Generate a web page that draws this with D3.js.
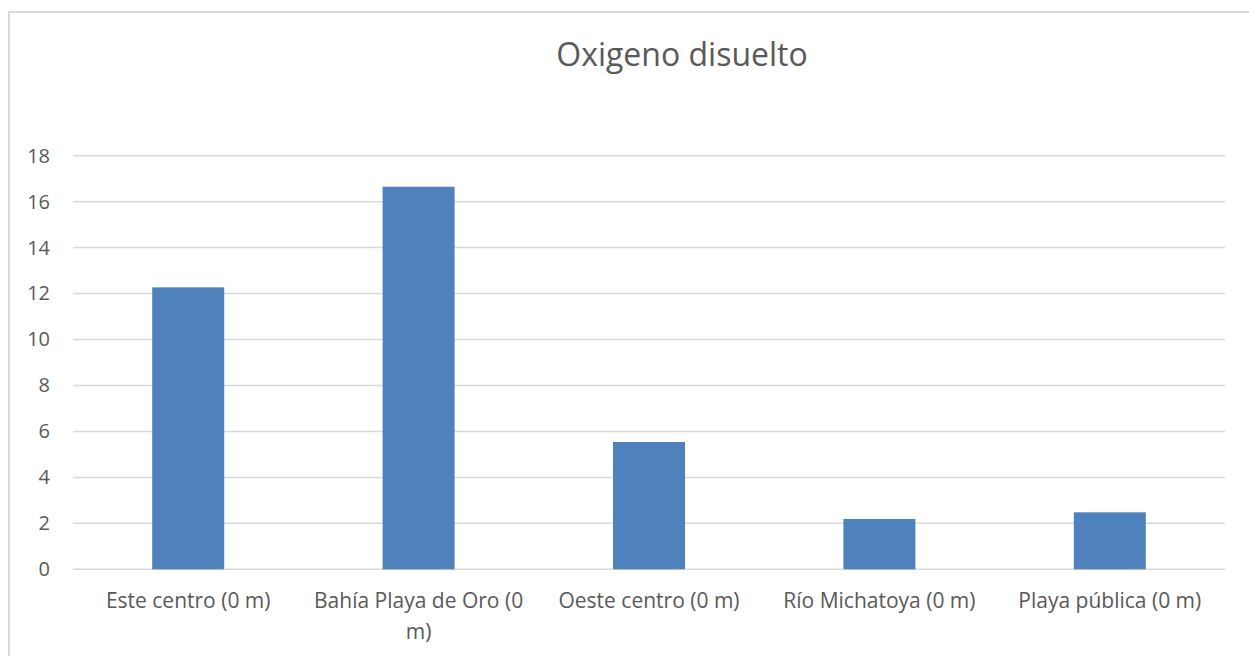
<!DOCTYPE html>
<html>
<head>
<meta charset="utf-8">
<script src="https://cdn.jsdelivr.net/npm/d3@7"></script>
<style>
  body { margin: 0; background: #fff; }
  svg { display: block; font-family: "Open Sans", "Liberation Sans", sans-serif; }
</style>
</head>
<body>
<svg id="chart" width="1249" height="656"></svg>
<script>
// data
var categories = ["Este centro (0 m)", "Bahía Playa de Oro (0 m)", "Oeste centro (0 m)", "Río Michatoya (0 m)", "Playa pública (0 m)"];
var oxigeno = [12.27, 16.65, 5.54, 2.19, 2.48];
var yTicks = [0, 2, 4, 6, 8, 10, 12, 14, 16, 18];
var chartTitle = "Oxigeno disuelto";

var svg = d3.select("#chart");
var width = 1249, height = 656;

// chart frame
svg.append("rect")
    .attr("x", 9).attr("y", 12)
    .attr("width", 1260).attr("height", 700)
    .attr("fill", "#fff")
    .attr("stroke", "#d9d9d9")
    .attr("stroke-width", 2);

var plot = { left: 73, right: 1225, top: 155.7, bottom: 569.3 };

var x = d3.scaleBand()
    .domain(categories)
    .range([plot.left, plot.right])
    .paddingInner(0.6875)
    .paddingOuter(0.34375);

var y = d3.scaleLinear()
    .domain([0, 18])
    .range([plot.bottom, plot.top]);

// gridlines
svg.append("g")
    .selectAll("line")
    .data(yTicks)
    .enter()
    .append("line")
      .attr("x1", plot.left)
      .attr("x2", plot.right)
      .attr("y1", d => y(d))
      .attr("y2", d => y(d))
      .style("stroke", "#d9d9d9")
      .style("stroke-width", 1.5);

// y axis labels
var yAxis = svg.append("g")
    .attr("transform", "translate(" + plot.left + ",0)")
    .call(d3.axisLeft(y).tickValues(yTicks).tickSize(0).tickPadding(23));
yAxis.select(".domain").remove();
yAxis.selectAll("text")
    .style("font-size", "20px")
    .style("fill", "#595959")
    .style("font-family", "'Open Sans', sans-serif");

// bars
svg.append("g")
    .selectAll("rect")
    .data(oxigeno)
    .enter()
    .append("rect")
      .attr("x", (d, i) => x(categories[i]))
      .attr("width", x.bandwidth())
      .attr("y", d => y(d))
      .attr("height", d => y(0) - y(d))
      .style("fill", "#4f81bd");

// category labels
var xAxis = svg.append("g")
    .attr("transform", "translate(0," + plot.bottom + ")")
    .call(d3.axisBottom(x).tickSize(0).tickPadding(0));
xAxis.select(".domain").remove();
xAxis.selectAll("text")
    .style("font-size", "21px")
    .style("fill", "#595959")
    .style("font-family", "'Open Sans', sans-serif")
    .call(wrap, 218);
xAxis.selectAll("text").attr("dy", null);

function wrap(texts, maxWidth) {
  texts.each(function() {
    var text = d3.select(this);
    var words = text.text().split(/\s+/);
    var line = [];
    var lineNo = 0;
    text.text(null);
    var tspan = text.append("tspan").attr("x", 0).attr("y", 39);
    words.forEach(function(w) {
      line.push(w);
      tspan.text(line.join(" "));
      if (tspan.node().getComputedTextLength() > maxWidth && line.length > 1) {
        line.pop();
        tspan.text(line.join(" "));
        line = [w];
        lineNo++;
        tspan = text.append("tspan").attr("x", 0).attr("y", 39 + lineNo * 31).text(w);
      }
    });
  });
}

// title
svg.append("text")
    .attr("x", 682)
    .attr("y", 66)
    .attr("text-anchor", "middle")
    .style("font-size", "32px")
    .style("fill", "#595959")
    .text(chartTitle);
</script>
</body>
</html>
